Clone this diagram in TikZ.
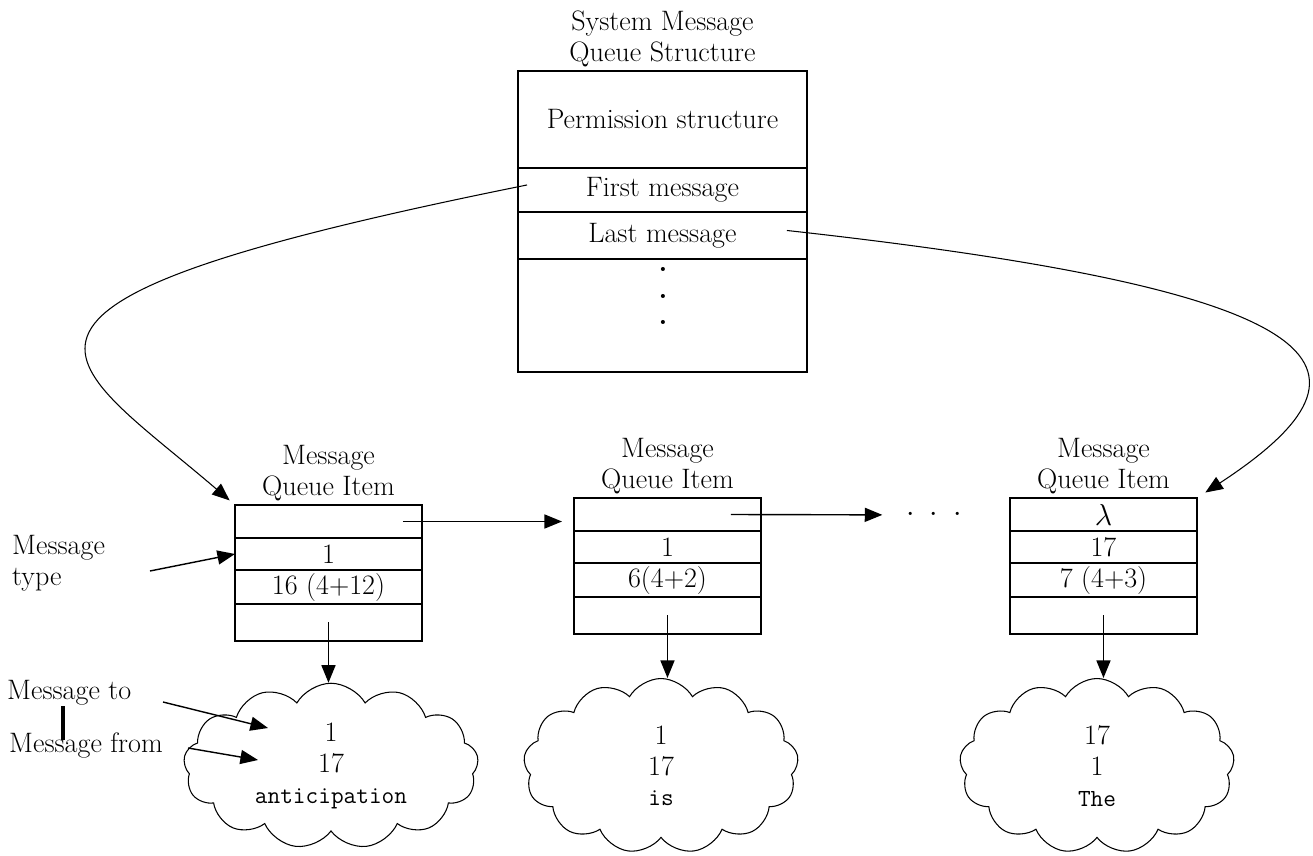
\documentclass[tikz,border=0pt]{standalone}
\usepackage{tikz}
\usetikzlibrary{positioning}
\usetikzlibrary{calc}
\usetikzlibrary{shapes.symbols}
\usetikzlibrary{arrows.meta}

\begin{document}
\begin{tikzpicture}[x=0.02cm, y=-0.02cm, >={Triangle[length=10pt,width=8pt]},
    every node/.style={font=\fontsize{16}{17.5}\selectfont},
    sysrow/.style={draw, line width=1pt, minimum width=5.78cm, inner sep=0pt, outer sep=0pt},
    itemrow/.style={draw, line width=1pt, minimum width=3.74cm, inner sep=0pt, outer sep=0pt},
    boxtitle/.style={align=center, inner sep=2pt},
    msgcloud/.style={cloud, draw, cloud puffs=13, cloud puff arc=120, cloud ignores aspect,
        line width=0.6pt, align=center, minimum width=5.9cm, minimum height=3.3cm},
    link/.style={->, line width=0.8pt},
    node distance=0pt]
    \useasboundingbox (0,0) rectangle (1313,856);

        \node [sysrow, minimum height=1.94cm, anchor=north west] (perm) at (518,71) {Permission structure};
        \node [sysrow, minimum height=0.88cm, below=of perm] (first) {First message};
        \node [sysrow, minimum height=0.94cm, below=of first] (last) {Last message};
        \node [sysrow, minimum height=2.26cm, below=of last] (more) {};
        \node [align=center, font=\fontsize{16}{15}\bfseries] (vdots) at (663,296) {.\\.\\.};
        \node [boxtitle, above=of perm] (systitle) {System Message\\Queue Structure};

        \node [itemrow, minimum height=0.66cm, anchor=north west] (qa1) at (235,505) {};
        \node [itemrow, minimum height=0.64cm, below=of qa1] (qb1) {1};
        \node [itemrow, minimum height=0.68cm, below=of qb1] (qc1) {16 (4+12)};
        \node [itemrow, minimum height=0.74cm, below=of qc1] (qd1) {};
        \node [boxtitle, above=of qa1] (qt1) {Message\\Queue Item};

        \node [itemrow, minimum height=0.66cm, anchor=north west] (qa2) at (574,498) {};
        \node [itemrow, minimum height=0.64cm, below=of qa2] (qb2) {1};
        \node [itemrow, minimum height=0.68cm, below=of qb2] (qc2) {6(4+2)};
        \node [itemrow, minimum height=0.74cm, below=of qc2] (qd2) {};
        \node [boxtitle, above=of qa2] (qt2) {Message\\Queue Item};

        \node [itemrow, minimum height=0.66cm, anchor=north west] (qa3) at (1010,498) {$\lambda$};
        \node [itemrow, minimum height=0.64cm, below=of qa3] (qb3) {17};
        \node [itemrow, minimum height=0.68cm, below=of qb3] (qc3) {7 (4+3)};
        \node [itemrow, minimum height=0.74cm, below=of qc3] (qd3) {};
        \node [boxtitle, above=of qa3] (qt3) {Message\\Queue Item};

        \node [inner sep=0pt] (dots) at (934,515) {$\cdot\;\cdot\;\cdot$};

        \node [msgcloud] (c1) at (331,766) {1\\17\\{\fontsize{14}{17.5}\ttfamily anticipation}};
        \node [msgcloud, minimum width=5.5cm, minimum height=3.5cm] (c2) at (661,766) {1\\17\\{\fontsize{14}{17.5}\ttfamily is}};
        \node [msgcloud, minimum width=5.5cm, minimum height=3.5cm] (c3) at (1097,766) {17\\1\\{\fontsize{14}{17.5}\ttfamily The}};

        \node [align=left, anchor=west] (mtype) at (6,563) {Message\\type};
        \node [anchor=west] (mto) at (1,693) {Message to};
        \node [anchor=west] (mfrom) at (3,745) {Message from};
        \coordinate (mtypeS) at (150,571);
        \coordinate (mtoS) at (163,702);
        \coordinate (mtoT) at (268,728);
        \coordinate (mfromS) at (188,748);
        \coordinate (mfromT) at (258,760);

        \draw [link] ([xshift=-0.38cm]qa1.east) -- ([xshift=-0.24cm]qa1.east -| qa2.west);
        \draw [link, shorten >=0.47cm] ([xshift=-0.6cm]qa2.east) -- (dots);

        \draw [link] (qd1.center) -- (qd1.center |- c1.north);
        \draw [link] (qd2.center) -- (qd2.center |- c2.north);
        \draw [link] (qd3.center) -- (qd3.center |- c3.north);

        \draw [->, line width=0.6pt, shorten >=0.14cm] ([xshift=0.18cm,yshift=0.1cm]first.west)
            .. controls (-70,305) and (60,355) .. (qa1.north west);
        \draw [->, line width=0.6pt, shorten >=0.2cm] ([xshift=-0.4cm,yshift=0.1cm]last.east)
            .. controls (1334,291) and (1400,365) .. (qa3.north east);

        \draw [link] (mtypeS) -- (qb1.west);
        \draw [link] (mtoS) -- (mtoT);
        \draw [link] (mfromS) -- (mfromT);
        \draw [line width=2pt] (63,706) -- (63,740);
    \end{tikzpicture}
\end{document}
